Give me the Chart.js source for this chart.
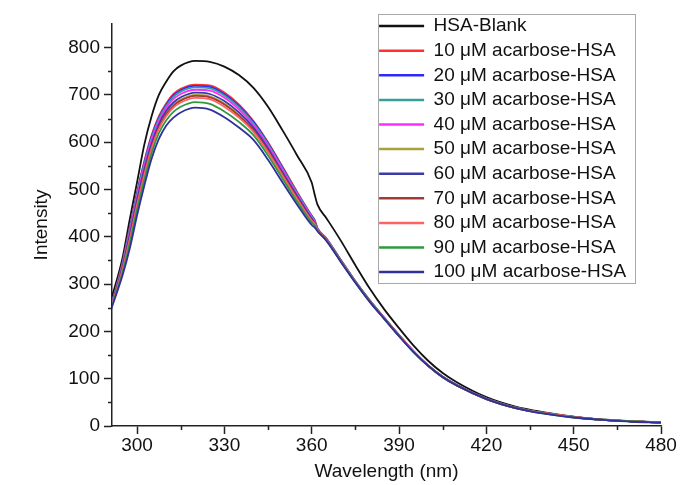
<!DOCTYPE html>
<html>
<head>
<meta charset="utf-8">
<script src="https://cdn.jsdelivr.net/npm/chart.js@4.4.1/dist/chart.umd.min.js"></script>
<style>
  html, body { margin: 0; padding: 0; background: #fff; }
  #wrap { width: 681px; height: 485px; }
</style>
</head>
<body>
<div id="wrap"><canvas id="chart" width="681" height="485"></canvas></div>
<script>
// Wavelength grid (nm) shared by every spectrum
const wavelengths = [291, 295, 297.5, 300, 302.5, 305, 307.5, 310, 312.5, 315, 320, 325, 330, 335, 340,
  345, 350, 355, 360, 361, 362, 365, 370, 375, 380, 385, 390, 395, 400, 405, 410, 420, 430, 440, 450,
  460, 470, 480];

// Intensities
const blank = [265, 355, 437, 515, 595, 655, 700, 728, 750, 762, 772, 770, 760, 742, 715,
  675, 625, 572, 515, 490, 468, 440, 392, 340, 290, 246, 207, 170, 138, 112, 92, 61, 41, 29, 20,
  14, 10, 8];
const acarbose10 = [252, 345, 420, 495, 560, 615, 655, 682, 702, 713, 722, 720, 705, 680, 645,
  600, 548, 495, 445, 436, 418, 397, 351, 306, 265, 228, 192, 158, 128, 104, 86, 58, 39, 27, 19,
  13, 10, 7];
const acarbose20 = [252, 343, 417, 492, 557, 612, 652, 679, 699, 710, 719, 717, 702, 677, 643,
  598, 546, 493, 444, 435, 418, 397, 351, 306, 265, 228, 192, 158, 128, 104, 86, 58, 39, 27, 19,
  13, 10, 7];
const acarbose30 = [251, 342, 415, 489, 554, 609, 649, 676, 696, 707, 716, 714, 699, 674, 640,
  596, 544, 492, 443, 434, 417, 396, 351, 306, 265, 228, 192, 158, 128, 104, 86, 58, 39, 27, 19,
  13, 10, 7];
const acarbose40 = [250, 339, 410, 484, 549, 604, 644, 672, 691, 702, 711, 709, 694, 669, 636,
  592, 541, 489, 441, 432, 417, 396, 350, 305, 264, 228, 192, 158, 128, 104, 86, 58, 39, 27, 19,
  13, 10, 7];
const acarbose50 = [249, 333, 400, 472, 537, 592, 633, 661, 679, 690, 700, 697, 682, 658, 627,
  583, 533, 483, 436, 429, 415, 395, 349, 305, 264, 227, 191, 157, 128, 104, 86, 58, 39, 27, 19,
  13, 10, 7];
const acarbose60 = [250, 336, 404, 477, 542, 597, 638, 666, 684, 695, 705, 702, 687, 663, 631,
  587, 536, 486, 438, 430, 416, 395, 350, 305, 264, 227, 191, 157, 128, 104, 86, 58, 39, 27, 19,
  13, 10, 7];
const acarbose70 = [248, 332, 398, 470, 535, 590, 631, 659, 677, 688, 698, 695, 680, 656, 625,
  582, 532, 482, 435, 428, 415, 394, 349, 304, 263, 227, 191, 157, 127, 103, 85, 57, 38, 27, 19,
  13, 10, 7];
const acarbose80 = [248, 330, 394, 466, 530, 586, 628, 655, 673, 684, 694, 691, 675, 652, 622,
  579, 529, 480, 434, 427, 415, 394, 349, 304, 263, 227, 191, 157, 127, 103, 85, 57, 38, 27, 19,
  13, 10, 7];
const acarbose90 = [247, 324, 386, 457, 520, 577, 619, 646, 664, 675, 685, 681, 665, 643, 615,
  572, 523, 474, 430, 424, 413, 393, 348, 304, 263, 226, 190, 156, 127, 103, 85, 57, 38, 26, 18,
  13, 10, 7];
const acarbose100 = [245, 318, 375, 445, 508, 565, 607, 635, 652, 663, 673, 669, 653, 631, 605,
  563, 515, 468, 425, 420, 412, 392, 347, 303, 262, 226, 190, 156, 127, 103, 85, 57, 38, 26, 18,
  13, 9, 7];

const seriesLabels = ["HSA-Blank", "10 μM acarbose-HSA", "20 μM acarbose-HSA", "30 μM acarbose-HSA",
  "40 μM acarbose-HSA", "50 μM acarbose-HSA", "60 μM acarbose-HSA", "70 μM acarbose-HSA",
  "80 μM acarbose-HSA", "90 μM acarbose-HSA", "100 μM acarbose-HSA"];
const seriesValues = [blank, acarbose10, acarbose20, acarbose30, acarbose40, acarbose50,
  acarbose60, acarbose70, acarbose80, acarbose90, acarbose100];
const seriesColors = ["#111111", "#ff3030", "#2a2aff", "#35a09a", "#ff2cff", "#a9a23c",
  "#3a3aa8", "#a23a3a", "#ff6262", "#2e9a3c", "#30309c"];

const yTicks = [0, 100, 200, 300, 400, 500, 600, 700, 800];
const yMinorTicks = [50, 150, 250, 350, 450, 550, 650, 750];
const xTicks = [300, 330, 360, 390, 420, 450, 480];
const xMinorTicks = [315, 345, 375, 405, 435, 465];

const FONT = "'Liberation Sans', Arial, Helvetica, sans-serif";
const FONT_SIZE = 19;
const LEGEND = { left: 373.5, top: 11, frameL: 378, frameT: 14, frameR: 635, frameB: 283 };

// minor ticks + legend frame
const extras = {
  id: "extras",
  afterLayout(chart) {
    const lg = chart.legend;
    lg.left = LEGEND.left;
    lg.top = LEGEND.top;
    lg.right = lg.left + lg.width;
    lg.bottom = lg.top + lg.height;
  },
  afterDraw(chart) {
    const { ctx, scales: { x, y } } = chart;
    ctx.save();
    ctx.strokeStyle = "#222";
    ctx.lineWidth = 1.5;
    ctx.beginPath();
    yMinorTicks.forEach(v => {
      const py = Math.round(y.getPixelForValue(v)) + 0.5;
      ctx.moveTo(y.right - 4, py);
      ctx.lineTo(y.right, py);
    });
    xMinorTicks.forEach(v => {
      const px = Math.round(x.getPixelForValue(v)) + 0.5;
      ctx.moveTo(px, x.top);
      ctx.lineTo(px, x.top + 4);
    });
    ctx.stroke();
    ctx.strokeStyle = "#a8a8a8";
    ctx.lineWidth = 1;
    ctx.strokeRect(LEGEND.frameL + 0.5, LEGEND.frameT + 0.5,
      LEGEND.frameR - LEGEND.frameL, LEGEND.frameB - LEGEND.frameT);
    ctx.restore();
  }
};

const datasets = seriesLabels.map((label, i) => ({
  label,
  data: wavelengths.map((w, k) => ({ x: w, y: seriesValues[i][k] })),
  borderColor: seriesColors[i],
  backgroundColor: seriesColors[i],
  borderWidth: 1.8,
  pointRadius: 0,
  cubicInterpolationMode: "monotone",
  order: seriesLabels.length - i
}));

Chart.defaults.font.family = FONT;
Chart.defaults.font.size = FONT_SIZE;
Chart.defaults.color = "#111";

new Chart(document.getElementById("chart"), {
  type: "line",
  data: { datasets },
  plugins: [extras],
  options: {
    responsive: false,
    animation: false,
    layout: { padding: { top: 24, right: 20, left: 0, bottom: 0 } },
    plugins: {
      tooltip: { enabled: false },
      legend: {
        position: "chartArea",
        align: "start",
        labels: {
          boxWidth: 45,
          boxHeight: 2.5,
          padding: 5.6,
          font: { size: FONT_SIZE },
          generateLabels: chart => chart.data.datasets.map((ds, i) => ({
            text: ds.label,
            fillStyle: ds.borderColor,
            strokeStyle: ds.borderColor,
            lineWidth: 0,
            hidden: false,
            datasetIndex: i,
            fontColor: "#111"
          }))
        }
      }
    },
    scales: {
      x: {
        type: "linear",
        min: 291.4,
        max: 480,
        afterFit: s => { s.height = 59; },
        afterBuildTicks: s => { s.ticks = xTicks.map(v => ({ value: v })); },
        border: { color: "#222", width: 1.5 },
        grid: { drawOnChartArea: false, drawTicks: true, tickLength: 8, tickColor: "#222", tickWidth: 1.5 },
        ticks: { padding: 0, maxRotation: 0, color: "#111" },
        title: { display: true, text: "Wavelength (nm)", padding: { top: 0, bottom: 2 }, color: "#111" }
      },
      y: {
        min: 0,
        max: 850,
        afterFit: s => { s.width = 112; },
        afterBuildTicks: s => { s.ticks = yTicks.map(v => ({ value: v })); },
        border: { color: "#222", width: 1.5 },
        grid: { drawOnChartArea: false, drawTicks: true, tickLength: 8, tickColor: "#222", tickWidth: 1.5 },
        ticks: { padding: 4, color: "#111" },
        title: { display: true, text: "Intensity", padding: { top: 30, bottom: 0 }, color: "#111" }
      }
    }
  }
});
</script>
</body>
</html>
